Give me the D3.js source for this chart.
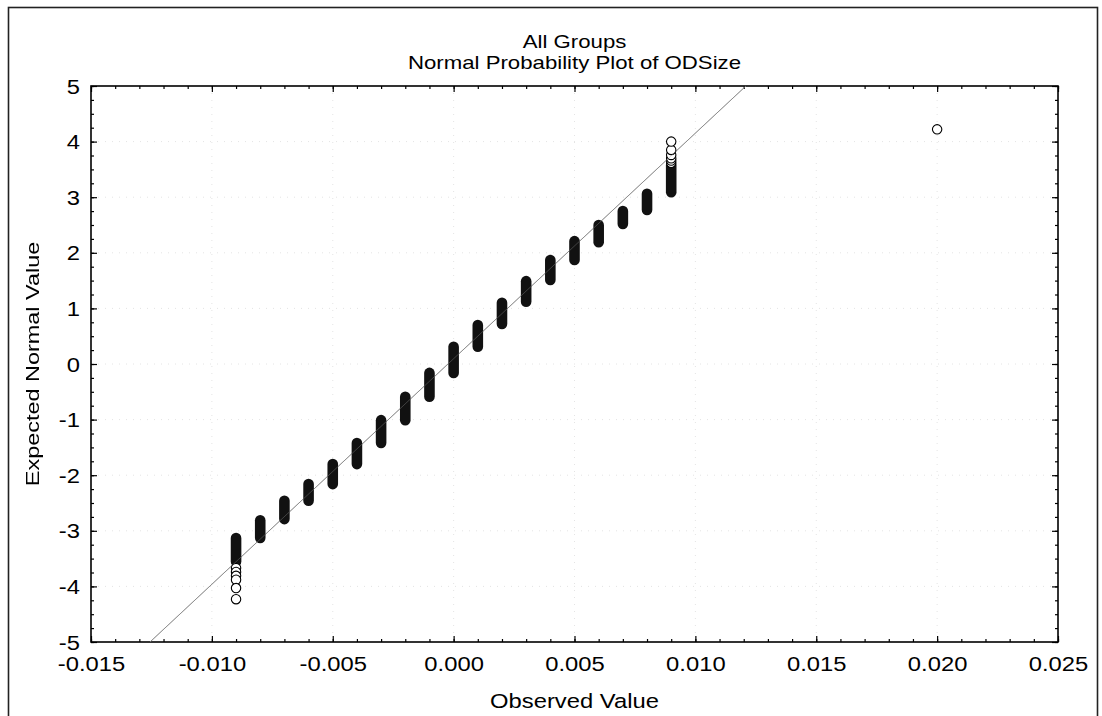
<!DOCTYPE html>
<html><head><meta charset="utf-8">
<script src="https://cdn.jsdelivr.net/npm/d3@7"></script>
<style>
body{margin:0;background:#fff;}
text{font-family:"Liberation Sans",Arial,sans-serif;fill:#000;}
</style>
</head><body>
<svg id="chart" width="1102" height="716"></svg>
<script>
// ---------- data ----------
const titleLines = ["All Groups", "Normal Probability Plot of ODSize"];
const xAxisTitle = "Observed Value";
const yAxisTitle = "Expected Normal Value";
const xTickValues = [-0.015, -0.010, -0.005, 0.000, 0.005, 0.010, 0.015, 0.020, 0.025];
const xTickLabels = ["-0.015", "-0.010", "-0.005", "0.000", "0.005", "0.010", "0.015", "0.020", "0.025"];
const yTickValues = [5, 4, 3, 2, 1, 0, -1, -2, -3, -4, -5];
const yTickLabels = ["5", "4", "3", "2", "1", "0", "-1", "-2", "-3", "-4", "-5"];

// dense stacks of observations (observed value, lowest / highest expected normal value)
const clusterX    = [-0.009, -0.008, -0.007, -0.006, -0.005, -0.004, -0.003, -0.002, -0.001, 0.000,
                      0.001,  0.002,  0.003,  0.004,  0.005,  0.006,  0.007,  0.008,  0.009];
const clusterLow  = [-3.55, -3.13, -2.79, -2.46, -2.16, -1.80, -1.42, -1.01, -0.59, -0.16,
                      0.31,  0.72,  1.12,  1.51,  1.87,  2.19,  2.52,  2.77,  3.09];
const clusterHigh = [-3.13, -2.81, -2.46, -2.16, -1.80, -1.42, -1.01, -0.59, -0.16,  0.31,
                      0.70,  1.10,  1.49,  1.87,  2.21,  2.50,  2.75,  3.06,  3.58];

// sparse individual points (tails and outlier)
const tailX = [-0.009, -0.009, -0.009, -0.009, -0.009, -0.009,
                0.009,  0.009,  0.009,  0.009,  0.009,  0.009,
                0.020];
const tailY = [-3.67, -3.74, -3.81, -3.88, -4.03, -4.23,
                3.62,  3.66,  3.70,  3.76,  3.85,  4.00,
                4.22];

// fitted normal reference line (end points)
const refLineX = [-0.01256, 0.01209];
const refLineY = [-5, 5];

// ---------- layout ----------
const svg = d3.select("#chart");
const L = 91, T = 86, R = 1058, B = 642;
const SX = 1.22; // horizontal glyph stretch
const FS = 19.5;

const x = d3.scaleLinear().domain([-0.015, 0.025]).range([L, R]);
const y = d3.scaleLinear().domain([-5, 5]).range([B, T]);

// grayscale filter for rotated text
const defs = svg.append("defs");
defs.append("filter").attr("id", "gray")
  .append("feColorMatrix").attr("type", "saturate").attr("values", 0);

// outer frame
svg.append("rect").attr("x", 8.5).attr("y", 7.5).attr("width", 1089).attr("height", 720)
  .attr("fill", "none").attr("stroke", "#222").attr("stroke-width", 1.6);

// faint dotted grid
const grid = svg.append("g").attr("stroke", "#e4e4e4").attr("stroke-width", 1).attr("stroke-dasharray", "1,6");
grid.selectAll("line.gx").data(xTickValues.slice(1, -1)).join("line")
  .attr("x1", d => x(d)).attr("x2", d => x(d)).attr("y1", T).attr("y2", B);
grid.selectAll("line.gy").data(yTickValues.slice(1, -1)).join("line")
  .attr("y1", d => y(d)).attr("y2", d => y(d)).attr("x1", L).attr("x2", R);

// minor tick values
const xMinor = d3.range(-15, 26).map(i => i / 1000);
const yMinor = d3.range(-20, 21).map(i => i / 4);

function styleAxis(g) {
  g.select(".domain").remove();
  g.selectAll(".tick line").attr("stroke", "#000").attr("stroke-width", 1.2);
}

// bottom
svg.append("g").attr("transform", `translate(0,${B})`)
  .call(d3.axisBottom(x).tickValues(xMinor).tickSize(-3).tickFormat(""))
  .call(styleAxis);
const xb = svg.append("g").attr("transform", `translate(0,${B})`)
  .call(d3.axisBottom(x).tickValues(xTickValues).tickSize(-6).tickPadding(0)
        .tickFormat((d, i) => xTickLabels[i]))
  .call(styleAxis);
xb.selectAll(".tick text").attr("y", 29).attr("dy", 0).attr("font-size", FS)
  .attr("transform", `scale(${SX},1)`);
// top
svg.append("g").attr("transform", `translate(0,${T})`)
  .call(d3.axisTop(x).tickValues(xMinor).tickSize(-3).tickFormat("")).call(styleAxis);
svg.append("g").attr("transform", `translate(0,${T})`)
  .call(d3.axisTop(x).tickValues(xTickValues).tickSize(-6).tickFormat("")).call(styleAxis);
// left
svg.append("g").attr("transform", `translate(${L},0)`)
  .call(d3.axisLeft(y).tickValues(yMinor).tickSize(-3).tickFormat("")).call(styleAxis);
const yl = svg.append("g").attr("transform", `translate(${L},0)`)
  .call(d3.axisLeft(y).tickValues(yTickValues).tickSize(-6).tickPadding(0)
        .tickFormat((d, i) => yTickLabels[i]))
  .call(styleAxis);
yl.selectAll(".tick text").attr("x", -11 / SX).attr("dy", "0.36em").attr("font-size", FS)
  .attr("transform", `scale(${SX},1)`);
// right
svg.append("g").attr("transform", `translate(${R},0)`)
  .call(d3.axisRight(y).tickValues(yMinor).tickSize(-3).tickFormat("")).call(styleAxis);
svg.append("g").attr("transform", `translate(${R},0)`)
  .call(d3.axisRight(y).tickValues(yTickValues).tickSize(-6).tickFormat("")).call(styleAxis);

// plot frame
svg.append("rect").attr("x", L).attr("y", T).attr("width", R - L).attr("height", B - T)
  .attr("fill", "none").attr("stroke", "#000").attr("stroke-width", 1.6);

// reference line
svg.append("line")
  .attr("x1", x(refLineX[0])).attr("y1", y(refLineY[0]))
  .attr("x2", x(refLineX[1])).attr("y2", y(refLineY[1]))
  .attr("stroke", "#666").attr("stroke-width", 0.8);

// dense clusters
const rad = 5.3;
svg.append("g").selectAll("rect").data(clusterX).join("rect")
  .attr("x", d => x(d) - rad)
  .attr("y", (d, i) => y(clusterHigh[i]) - rad)
  .attr("width", 2 * rad)
  .attr("height", (d, i) => y(clusterLow[i]) - y(clusterHigh[i]) + 2 * rad)
  .attr("rx", rad).attr("ry", rad)
  .attr("fill", "#111");

// individual points
svg.append("g").selectAll("circle").data(tailX).join("circle")
  .attr("cx", d => x(d)).attr("cy", (d, i) => y(tailY[i]))
  .attr("r", 4.7).attr("fill", "#fff").attr("stroke", "#000").attr("stroke-width", 1.1);

// reference line faintly over clusters
svg.append("line")
  .attr("x1", x(refLineX[0])).attr("y1", y(refLineY[0]))
  .attr("x2", x(refLineX[1])).attr("y2", y(refLineY[1]))
  .attr("stroke", "#999").attr("stroke-width", 0.7).attr("opacity", 0.5);

// titles
titleLines.forEach((t, i) => {
  svg.append("text").attr("transform", `translate(${(L + R) / 2},${48 + i * 21}) scale(${SX},1)`)
    .attr("text-anchor", "middle").attr("font-size", 18.2).text(t);
});
svg.append("text").attr("transform", `translate(${(L + R) / 2},708) scale(${SX},1)`)
  .attr("text-anchor", "middle").attr("font-size", FS).text(xAxisTitle);
svg.append("g").attr("filter", "url(#gray)")
  .append("text").attr("transform", `translate(39,${(T + B) / 2}) scale(1.1,1) rotate(-90) scale(1.34,1)`)
  .attr("text-anchor", "middle").attr("font-size", 17.5).text(yAxisTitle);
</script>
</body></html>
